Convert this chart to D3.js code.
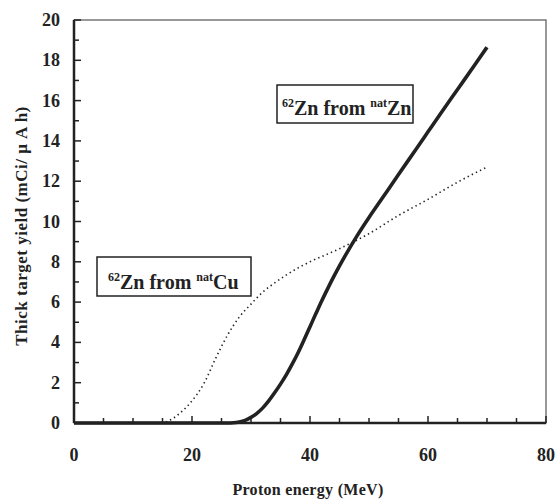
<!DOCTYPE html>
<html><head><meta charset="utf-8">
<script src="https://cdn.jsdelivr.net/npm/d3@7"></script>
<style>
body{margin:0;background:#fff;}
</style></head>
<body><svg id="c" width="557" height="499"></svg>
<script>
// Data
const znEnergy = [0,5,10,15,20,25,26,27,28,29,30,31,32,33,34,35,36,37,38,39,40,41,42,43,44,45,46,48,50,52,55,58,60,62,65,68,70];
const znYield  = [0,0,0,0,0,0,0,0.01,0.05,0.13,0.28,0.48,0.75,1.1,1.5,1.93,2.4,2.93,3.5,4.13,4.78,5.43,6.07,6.67,7.25,7.8,8.32,9.3,10.2,11.05,12.33,13.6,14.45,15.3,16.55,17.8,18.65];
const cuEnergy = [0,5,10,15,16,18,20,22,24,26,28,30,32,34,36,38,40,45,50,55,60,65,70];
const cuYield  = [0,0,0,0,0.1,0.5,1.1,1.95,3.2,4.35,5.25,5.9,6.5,6.95,7.35,7.7,8.0,8.65,9.4,10.3,11.1,11.95,12.7];
const xTicks = [0,20,40,60,80];
const yTicks = [0,2,4,6,8,10,12,14,16,18,20];

const FONT = "'Liberation Serif', 'Times New Roman', Tinos, serif";
const svg = d3.select("#c");
const L=74, R=546, T=20, B=423;
const x = d3.scaleLinear().domain([0,80]).range([L,R]);
const y = d3.scaleLinear().domain([0,20]).range([B,T]);

function txt(sel){ return sel.attr("font-family",FONT).attr("font-weight","bold").attr("fill","#222"); }

// frame
svg.append("rect").attr("x",L).attr("y",T).attr("width",R-L).attr("height",B-T)
  .attr("fill","none").attr("stroke","#555").attr("stroke-width",1.2);

// bottom axis ticks (inward)
const xAll = d3.range(0,81,5);
svg.append("g").selectAll("line").data(xAll).join("line")
  .attr("x1",d=>x(d)).attr("x2",d=>x(d)).attr("y1",B).attr("y2",d=>B-(d%20===0?7:5))
  .attr("stroke","#222").attr("stroke-width",1.5);
// left axis ticks (inward)
const yAll = d3.range(0,21,1);
svg.append("g").selectAll("line").data(yAll).join("line")
  .attr("y1",d=>y(d)).attr("y2",d=>y(d)).attr("x1",L).attr("x2",d=>L+(d%2===0?7:5))
  .attr("stroke","#222").attr("stroke-width",1.5);
// axis lines
svg.append("line").attr("x1",L).attr("x2",R).attr("y1",B).attr("y2",B).attr("stroke","#222").attr("stroke-width",2.5);
svg.append("line").attr("x1",L).attr("x2",L).attr("y1",T).attr("y2",B).attr("stroke","#222").attr("stroke-width",2.5);

// tick labels
txt(svg.append("g").selectAll("text").data(xTicks).join("text"))
  .attr("x",d=>x(d)).attr("y",461).attr("text-anchor","middle").attr("font-size",18).text(d=>d);
txt(svg.append("g").selectAll("text").data(yTicks).join("text"))
  .attr("x",60).attr("y",d=>y(d)+6).attr("text-anchor","end").attr("font-size",18).text(d=>d);

// axis titles
txt(svg.append("text")).attr("x",308).attr("y",495).attr("text-anchor","middle").attr("font-size",16).attr("letter-spacing",0.3).text("Proton energy (MeV)");
txt(svg.append("text")).attr("transform","translate(27,226) rotate(-90)").attr("text-anchor","middle").attr("font-size",17).attr("letter-spacing",0.5).text("Thick target yield (mCi/ μ A h)");

const line = d3.line().x(d=>x(d[0])).y(d=>y(d[1])).curve(d3.curveMonotoneX);
// natCu dotted
svg.append("path").datum(cuEnergy.map((e,i)=>[e,cuYield[i]]))
  .attr("d",line).attr("fill","none").attr("stroke","#222").attr("stroke-width",1.6).attr("stroke-dasharray","1.4,3.2");
// natZn solid
svg.append("path").datum(znEnergy.map((e,i)=>[e,znYield[i]]))
  .attr("d",line).attr("fill","none").attr("stroke","#222").attr("stroke-width",3.6);

// annotation boxes
function label(bx,by,bw,bh,tx,ty,target){
  svg.append("rect").attr("x",bx).attr("y",by).attr("width",bw).attr("height",bh)
    .attr("fill","#fff").attr("stroke","#222").attr("stroke-width",1.5);
  const t = txt(svg.append("text")).attr("x",tx).attr("y",ty).attr("font-size",20);
  t.append("tspan").attr("font-size",12).attr("dy",-8).text("62");
  t.append("tspan").attr("dy",8).text("Zn from ");
  t.append("tspan").attr("font-size",12).attr("dy",-8).text("nat");
  t.append("tspan").attr("dy",8).text(target);
}
label(277,85,136,38,282,115,"Zn");
label(97,257,154,39,108,289,"Cu");
</script></body></html>
